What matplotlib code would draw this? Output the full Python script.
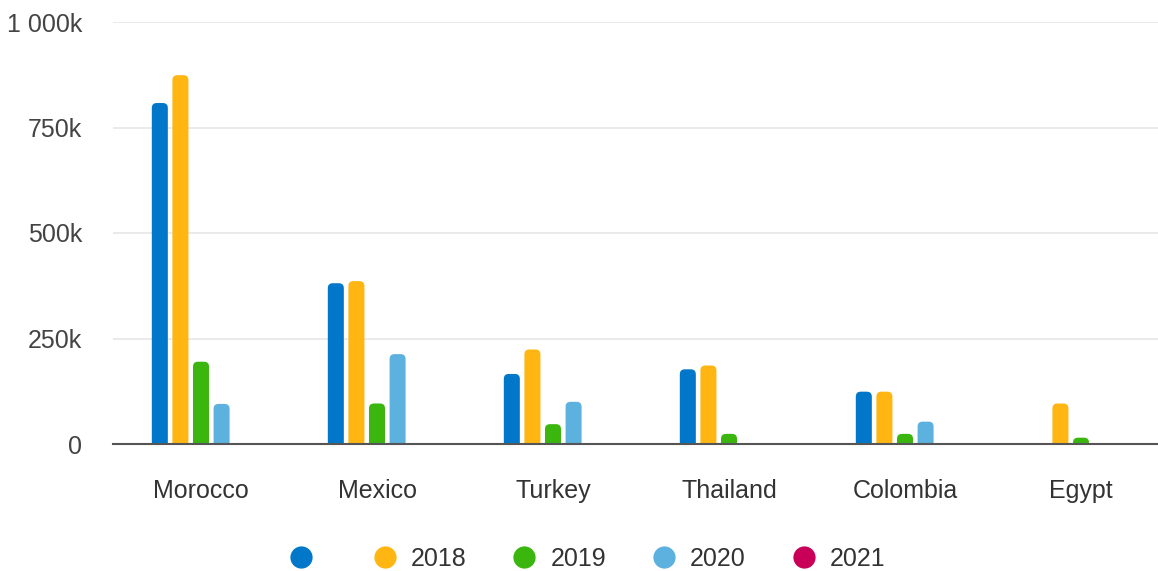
import numpy as np
import matplotlib.pyplot as plt
from matplotlib.patches import FancyBboxPatch
from matplotlib.lines import Line2D

plt.rcParams['font.family'] = ['Liberation Sans', 'DejaVu Sans']

countries = ['Morocco', 'Mexico', 'Turkey', 'Thailand', 'Colombia', 'Egypt']
series_names = ['', '2018', '2019', '2020', '2021']
v_first = [808000, 381000, 166000, 177000, 124000, 0]
v_2018 = [874000, 386000, 224000, 186000, 124000, 96000]
v_2019 = [195000, 96000, 47000, 24000, 24000, 15000]
v_2020 = [95000, 213000, 100000, 2000, 53000, 0]
v_2021 = [0, 0, 0, 0, 0, 0]
yticks = [0, 250000, 500000, 750000, 1000000]
ytick_labels = ['0', '250k', '500k', '750k', '1 000k']

colors = ['#0077C8', '#FFB612', '#3AB60E', '#5CB1DF', '#C90058']
values = [v_first, v_2018, v_2019, v_2020, v_2021]

fig = plt.figure(figsize=(11.58, 5.71), dpi=100)
ax = fig.add_axes([113 / 1158, 127 / 571, 1056 / 1158, 422 / 571])
ax.set_xlim(-0.5, len(countries) - 0.5)
ax.set_ylim(0, 1000000)

step = 0.117
bw = 0.091
# px -> data ratio, to keep the corner round
x_per_px = len(countries) / 1056
y_per_px = 1000000 / 422
aspect = y_per_px / x_per_px

x = np.arange(len(countries))
for i, (vals, c) in enumerate(zip(values, colors)):
    off = (i - 2) * step
    for xi, v in zip(x, vals):
        if v <= 0:
            continue
        p = FancyBboxPatch((xi + off - bw / 2, -20000), bw, v + 20000,
                           boxstyle='round,pad=0,rounding_size=0.028',
                           mutation_aspect=aspect, fc=c, ec='none',
                           zorder=3)
        ax.add_patch(p)

fs = 18
ax.set_yticks(yticks)
ax.set_yticklabels(ytick_labels)
ax.set_xticks(x)
ax.set_xticklabels(countries)
ax.tick_params(axis='y', length=0, pad=22, labelsize=fs, labelcolor='#444444')
ax.tick_params(axis='x', length=0, pad=25.5, labelsize=fs, labelcolor='#333333')
ax.grid(axis='y', color='#e6e6e6', linewidth=1.2, zorder=0)
for s in ['top', 'right', 'left']:
    ax.spines[s].set_visible(False)
ax.spines['bottom'].set_color('#555555')
ax.spines['bottom'].set_linewidth(1.5)
ax.spines['bottom'].set_zorder(4)

handles = [Line2D([], [], linestyle='none', marker='o', markersize=16,
                  markerfacecolor=c, markeredgecolor='none') for c in colors]
leg = fig.legend(handles, series_names, loc='center', ncol=5,
                 bbox_to_anchor=(588 / 1158, 12 / 571), frameon=False,
                 fontsize=fs, handlelength=0.8, handletextpad=0.64,
                 columnspacing=1.92)
for t in leg.get_texts():
    t.set_color('#333333')

fig.savefig('out.png', dpi=100)
